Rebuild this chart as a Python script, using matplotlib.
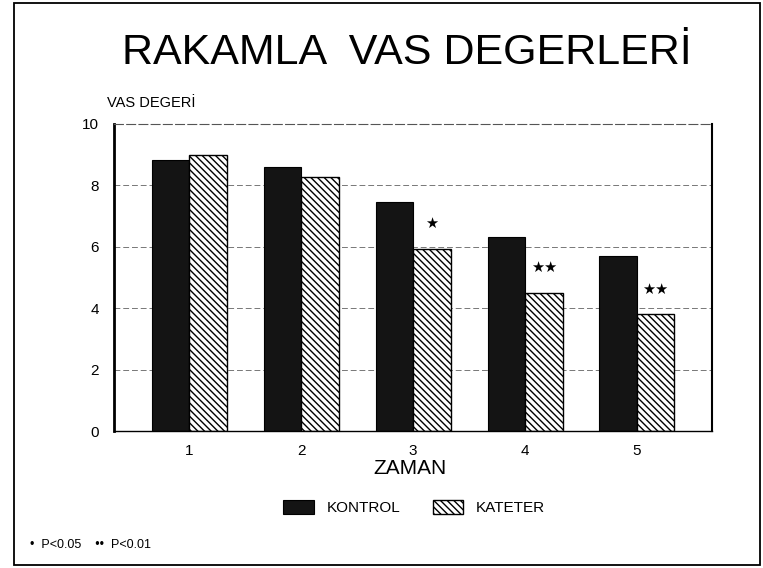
import matplotlib
matplotlib.use('Agg')
import matplotlib.pyplot as plt
from matplotlib.patches import Rectangle
import numpy as np

plt.rcParams['font.family'] = ['Liberation Sans', 'DejaVu Sans']
plt.rcParams['hatch.linewidth'] = 1.0

# data
zaman = ['1', '2', '3', '4', '5']
kontrol = [8.83, 8.59, 7.45, 6.33, 5.71]
kateter = [8.98, 8.28, 5.93, 4.50, 3.80]
signif = ['', '', '\u2605', '\u2605\u2605', '\u2605\u2605']
yticks = [0, 2, 4, 6, 8, 10]

fig = plt.figure(figsize=(7.63, 5.68), dpi=100)
fig.patch.set_facecolor('white')
ax = fig.add_axes([0.150, 0.241, 0.783, 0.541])

x = np.arange(1, len(zaman) + 1)
w = 0.335

# faint dashed grid lines behind the bars
for yv in yticks[1:-1]:
    ax.axhline(yv, color='#777777', lw=0.7, linestyle=(0, (6, 3)), zorder=0)

b1 = ax.bar(x - w / 2, kontrol, w, color='#141414', edgecolor='black',
            lw=0.8, label='KONTROL', zorder=2)
b2 = ax.bar(x + w / 2, kateter, w, color='white', edgecolor='black',
            hatch='\\\\\\\\\\', lw=1.0, label='KATETER', zorder=2)

for xi, v, s in zip(x, kateter, signif):
    if s:
        ax.annotate(s, (xi + w / 2, v), xytext=(0, 18), textcoords='offset points',
                    ha='center', va='center', fontsize=10.5, color='black',
                    family=['DejaVu Sans'])

ax.set_xlim(0.33, 5.67)
ax.set_ylim(0, 10)
ax.set_yticks(yticks)
ax.set_xticks(x)
ax.set_xticklabels(zaman)
ax.tick_params(axis='both', length=0, labelsize=11)
ax.tick_params(axis='y', pad=11)
ax.tick_params(axis='x', pad=9)

ax.spines['left'].set_linewidth(2.0)
ax.spines['right'].set_linewidth(1.5)
ax.spines['bottom'].set_linewidth(1.0)
ax.spines['top'].set_linewidth(0.8)
ax.spines['top'].set_color('#555555')
ax.spines['top'].set_linestyle((0, (8, 3)))

# texts
fig.text(0.533, 0.906, 'RAKAMLA  VAS DEGERLERİ', ha='center', va='center',
         fontsize=31)
fig.text(0.140, 0.818, 'VAS DEGERİ', ha='left', va='center', fontsize=10.5)
fig.text(0.537, 0.176, 'ZAMAN', ha='center', va='center', fontsize=15)
fig.text(0.039, 0.040, '•  P<0.05    ••  P<0.01', ha='left', va='center',
         fontsize=9)

fig.legend(handles=[b1, b2], loc='center', bbox_to_anchor=(0.543, 0.106),
           ncol=2, frameon=False, fontsize=11, handlelength=2.0,
           handleheight=1.0, handletextpad=0.85, columnspacing=2.1)

# slide border
fig.patches.append(Rectangle((0.018, 0.006), 0.978, 0.988, transform=fig.transFigure,
                             fill=False, lw=1.3, edgecolor='black'))

fig.savefig('out.png', dpi=100)
